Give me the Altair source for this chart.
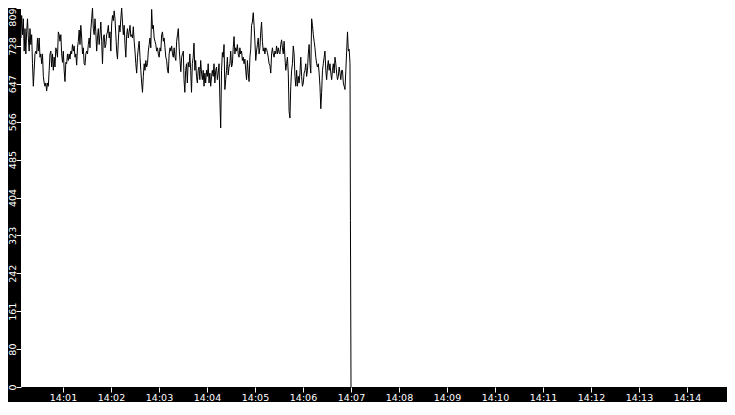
import altair as alt
import pandas as pd

# Series values (14:00:00 - 14:03:30), evenly spaced
values_a = [
    711, 690, 724, 731, 772, 758, 772, 745, 793, 752,
    786, 717, 765, 711, 758, 786, 745, 717, 765, 731,
    752, 690, 642, 676, 711, 717, 711, 745, 717, 745,
    704, 711, 690, 711, 663, 649, 642, 649, 632, 649,
    642, 676, 711, 717, 683, 711, 676, 704, 683, 724,
    717, 704, 758, 752, 738, 752, 711, 693, 717, 676,
    652, 693, 690, 711, 697, 711, 700, 717, 711, 731,
    717, 728, 704, 711, 687, 724, 738, 762, 731, 772,
    745, 711, 724, 690, 687, 711, 717, 711, 731, 745,
    724, 762, 786, 809, 765, 752, 786, 758, 717, 745,
    765, 731, 752, 779, 738, 690, 745, 752, 724, 731,
    752, 758, 772, 745, 758, 717, 775, 793, 782, 803,
    786, 752, 717, 700, 738, 772, 758, 786, 809, 779,
    752, 772, 731, 704, 752, 765, 745, 758, 772, 748,
    752, 745, 769, 738, 717, 690, 670, 704, 724, 738,
    704, 676, 649, 629, 663, 690, 676, 697, 683, 690,
    717, 731, 745, 724, 806, 765, 772, 745, 738, 731,
    717, 724, 711, 704, 724, 717, 752, 758, 738, 745,
    724, 704, 697, 676, 670, 711, 724, 717, 728, 711,
    704, 724, 704, 697, 738, 752, 765, 724, 697, 673,
    704, 711, 717,
]
span_a = [0.0, 210.4]  # seconds after 14:00:00

# Series values (14:03:31 - 14:06:59), evenly spaced
values_b = [
    656, 629, 676, 690, 649, 693, 683, 711, 676, 629,
    690, 704, 734, 676, 697, 663, 649, 676, 683, 656,
    697, 670, 656, 676, 642, 670, 649, 676, 663, 690,
    649, 670, 642, 663, 676, 663, 690, 649, 676, 683,
    656, 670, 690, 615, 553, 676, 714, 704, 731, 635,
    656, 676, 704, 666, 683, 690, 717, 683, 690, 724,
    748, 711, 724, 717, 731, 711, 704, 724, 711, 717,
    697, 704, 690, 700, 676, 656, 697, 670, 652, 704,
    721, 772, 779, 799, 772, 738, 697, 717, 731, 745,
    711, 724, 758, 779, 738, 717, 724, 711, 724, 721,
    714, 704, 690, 687, 670, 711, 724, 711, 704, 717,
    711, 728, 711, 724, 714, 711, 731, 741, 724, 711,
    738, 704, 676, 690, 704, 670, 588, 574, 642, 676,
    690, 728, 711, 663, 642, 676, 642, 663, 649, 670,
    704, 663, 642, 649, 670, 676, 690, 663, 676, 711,
    731, 690, 670, 786, 772, 752, 738, 724, 704, 690,
    683, 690, 670, 642, 594, 629, 676, 690, 704, 717,
    676, 656, 683, 697, 676, 690, 670, 656, 676, 690,
    670, 704, 690, 670, 656, 663, 683, 670, 656, 676,
    676, 649, 642, 635, 676, 717, 758, 717, 721, 690,
]
span_b = [211.25, 418.75]

# final drop at 14:07
tail_seconds = [419.3, 420.0]
tail_values = [355, 0]

y_tick_values = [0, 80.9, 161.8, 242.7, 323.6, 404.5, 485.4, 566.3, 647.2, 728.1, 809]
x_tick_minutes = [1, 2, 3, 4, 5, 6, 7, 8, 9, 10, 11, 12, 13, 14]


def stamp(sec):
    m = int(sec // 60)
    s = sec - 60 * m
    return "2024-01-01T14:%02d:%06.3f" % (m, s)


def spread(span, n):
    step = (span[1] - span[0]) / (n - 1)
    return [span[0] + i * step for i in range(n)]


seconds = spread(span_a, len(values_a)) + spread(span_b, len(values_b)) + tail_seconds
series = values_a + values_b + tail_values
df = pd.DataFrame({"time": [stamp(s) for s in seconds], "value": series})

x_start = alt.DateTime(year=2024, month=1, date=1, hours=14, minutes=0, seconds=7, milliseconds=500)
x_end = alt.DateTime(year=2024, month=1, date=1, hours=14, minutes=14, seconds=50)
x_ticks = [alt.DateTime(year=2024, month=1, date=1, hours=14, minutes=m) for m in x_tick_minutes]

chart = alt.Chart(df).mark_line(color="black", strokeWidth=1, clip=True).encode(
    x=alt.X(
        "time:T",
        scale=alt.Scale(domain=[x_start, x_end]),
        axis=alt.Axis(
            values=x_ticks, format="%H:%M", title=None, grid=False, domain=False,
            labelColor="white", tickColor="white", tickSize=5, labelPadding=0,
            labelFont="DejaVu Sans", labelFontSize=9.5, labelOverlap=False, labelFlush=False,
        ),
    ),
    y=alt.Y(
        "value:Q",
        scale=alt.Scale(domain=[0, 809], nice=False),
        axis=alt.Axis(
            values=y_tick_values, labelExpr="floor(datum.value)", title=None, grid=False,
            domain=False, labelColor="white", tickColor="white", tickSize=5, labelPadding=0.5,
            labelAngle=270,
            labelAlign={"condition": {"test": "datum.value > 800", "value": "right"}, "value": "center"},
            labelBaseline="alphabetic",
            labelFont="DejaVu Sans", labelFontSize=9.5, labelOverlap=False, labelFlush=False,
        ),
    ),
).properties(
    width=706,
    height=379,
    background="black",
    padding={"left": 13, "top": 0, "right": 0, "bottom": 15},
    autosize=alt.AutoSizeParams(type="none"),
).configure_view(fill="white", stroke=None)

chart.save("out.html", embed_options={"renderer": "svg", "actions": False})
